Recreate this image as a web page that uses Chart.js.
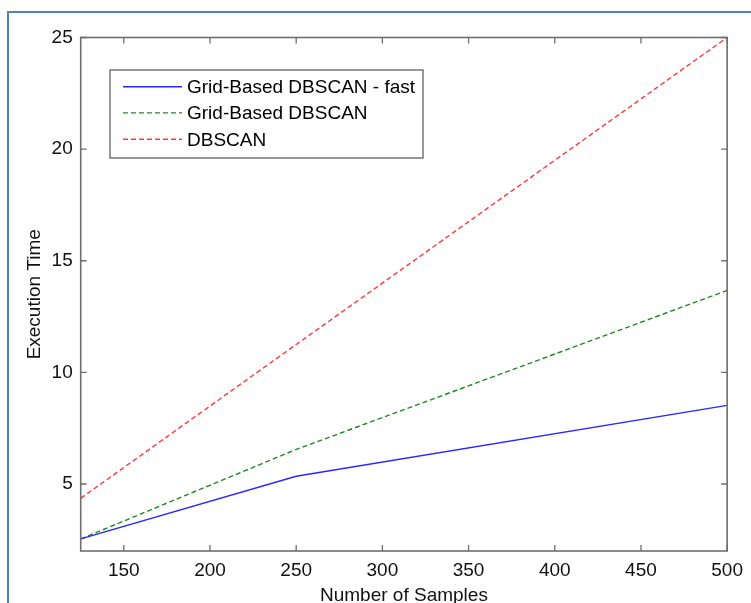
<!DOCTYPE html>
<html><head><meta charset="utf-8">
<script src="https://cdn.jsdelivr.net/npm/chart.js@4"></script>
<style>
html,body{margin:0;padding:0;background:#fff;overflow:hidden}
#wrap{position:relative;width:751px;height:603px;overflow:hidden}
#frame{position:absolute;left:7px;top:11px;width:800px;height:700px;border-left:2px solid #4f81bd;border-top:2px solid #4f81bd;pointer-events:none}
canvas{position:absolute;left:0;top:0}
</style></head><body>
<div id="wrap"><canvas id="c" width="751" height="603"></canvas><div id="frame"></div></div>
<script>
const samples = [125, 250, 500];
const fastTimes = [2.54, 5.35, 8.52];
const gridTimes = [2.54, 6.55, 13.67];
const dbscanTimes = [4.36, 11.25, 25];
const xTicks = [150, 200, 250, 300, 350, 400, 450, 500];
const yTicks = [5, 10, 15, 20, 25];
const seriesNames = ['Grid-Based DBSCAN - fast', 'Grid-Based DBSCAN', 'DBSCAN'];
const xTitle = 'Number of Samples';
const yTitle = 'Execution Time';

const FONT = "'Liberation Sans', Arial, Helvetica, sans-serif";
const AXIS_COLOR = '#6e6e6e';

function pts(vals){ return samples.map((x,i)=>({x:x, y:vals[i]})); }

const boxPlugin = {
  id: 'matlabBox',
  afterDraw(chart){
    const ctx = chart.ctx, a = chart.chartArea;
    const xs = chart.scales.x, ys = chart.scales.y;
    ctx.save();
    ctx.strokeStyle = AXIS_COLOR;
    ctx.lineWidth = 1.6;
    ctx.setLineDash([]);
    ctx.strokeRect(a.left, a.top, a.right - a.left, a.bottom - a.top);
    const tl = 6;
    ctx.lineWidth = 1.3;
    ctx.beginPath();
    xTicks.forEach(v => {
      const px = xs.getPixelForValue(v);
      ctx.moveTo(px, a.bottom); ctx.lineTo(px, a.bottom - tl);
      ctx.moveTo(px, a.top); ctx.lineTo(px, a.top + tl);
    });
    yTicks.forEach(v => {
      const py = ys.getPixelForValue(v);
      ctx.moveTo(a.left, py); ctx.lineTo(a.left + tl, py);
      ctx.moveTo(a.right, py); ctx.lineTo(a.right - tl, py);
    });
    ctx.stroke();

    // legend
    const lx = 110, ly = 70, lw = 313, lh = 88;
    ctx.fillStyle = '#fff';
    ctx.fillRect(lx, ly, lw, lh);
    ctx.strokeStyle = '#555';
    ctx.lineWidth = 1.2;
    ctx.strokeRect(lx, ly, lw, lh);
    const rows = [86.7, 112.9, 139.3];
    ctx.font = '19px ' + FONT;
    ctx.textBaseline = 'middle';
    ctx.textAlign = 'left';
    chart.data.datasets.forEach((ds, i) => {
      const y = rows[i];
      ctx.strokeStyle = ds.borderColor;
      ctx.lineWidth = ds.borderWidth;
      ctx.setLineDash(ds.borderDash || []);
      ctx.beginPath();
      ctx.moveTo(123, y); ctx.lineTo(182, y);
      ctx.stroke();
      ctx.setLineDash([]);
      ctx.fillStyle = '#000';
      ctx.fillText(ds.label, 187, y + 1);
    });
    ctx.restore();
  }
};

new Chart(document.getElementById('c'), {
  type: 'line',
  data: {
    datasets: [
      { label: seriesNames[0], data: pts(fastTimes), borderColor: '#2828ff', borderWidth: 1.4, borderDash: [] },
      { label: seriesNames[1], data: pts(gridTimes), borderColor: '#1f8a1f', borderWidth: 1.4, borderDash: [5, 3] },
      { label: seriesNames[2], data: pts(dbscanTimes), borderColor: '#ff3a3a', borderWidth: 1.4, borderDash: [5, 3] }
    ]
  },
  options: {
    responsive: false,
    animation: false,
    devicePixelRatio: 1,
    layout: { padding: { top: 37.5, right: 17.7, bottom: 0, left: 0 } },
    elements: { point: { radius: 0 }, line: { tension: 0, fill: false } },
    plugins: { legend: { display: false }, tooltip: { enabled: false } },
    scales: {
      x: {
        type: 'linear', min: 125, max: 500,
        afterBuildTicks: s => { s.ticks = xTicks.map(v => ({ value: v })); },
        afterFit: s => { s.height = 52; },
        grid: { display: false, drawTicks: false, tickLength: 0 },
        border: { display: false },
        ticks: { font: { family: FONT, size: 19 }, color: '#111', padding: 8, maxRotation: 0, autoSkip: false },
        title: { display: true, text: xTitle, font: { family: FONT, size: 19, lineHeight: 0.8 }, color: '#111', padding: 0 }
      },
      y: {
        type: 'linear', min: 2, max: 25,
        afterBuildTicks: s => { s.ticks = yTicks.map(v => ({ value: v })); },
        afterFit: s => { s.width = 80.7; },
        grid: { display: false, drawTicks: false, tickLength: 0 },
        border: { display: false },
        ticks: { font: { family: FONT, size: 19 }, color: '#111', padding: 8 },
        title: { display: true, text: yTitle, font: { family: FONT, size: 19, lineHeight: 0.8 }, color: '#111', padding: { top: 27.4, bottom: 0 } }
      }
    }
  },
  plugins: [boxPlugin]
});
</script>
</body></html>
